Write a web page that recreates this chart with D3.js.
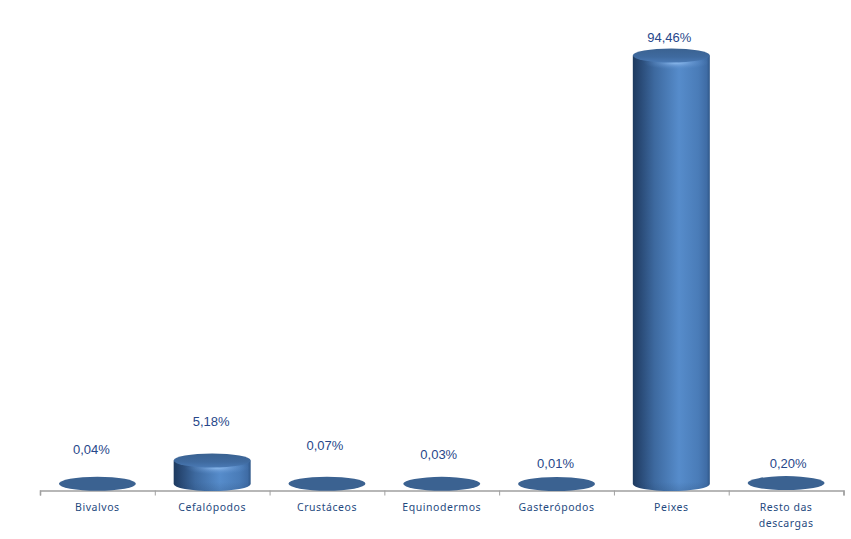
<!DOCTYPE html>
<html><head><meta charset="utf-8">
<script src="https://cdn.jsdelivr.net/npm/d3@7/dist/d3.min.js"></script>
<style>html,body{margin:0;padding:0;background:#fff}svg{display:block}</style>
</head><body><svg id="c" width="851" height="539"></svg>
<script>
const categories = ["Bivalvos","Cefalópodos","Crustáceos","Equinodermos","Gasterópodos","Peixes","Resto das descargas"];
const values = [0.04,5.18,0.07,0.03,0.01,94.46,0.20];
const valueLabels = ["0,04%","5,18%","0,07%","0,03%","0,01%","94,46%","0,20%"];
// label placement relative to the cylinder base centre, px (manually placed in the original)
const labelLift = [30,58,34,25,16,442,16];
const labelShift = [-6,-1,-2,-3,-1,-2,2];

const svg = d3.select("#c");
const x = d3.scaleBand().domain(categories).range([40,843.5]);
const y = d3.scaleLinear().domain([0,100]).range([484,30.4]);
const rx = 38.5, ry = 7, axisY = 490.5;

const defs = svg.append("defs");
const body = defs.append("linearGradient").attr("id","body");
[[0,"#1d3a5f"],[.1,"#294a76"],[.28,"#3d699f"],[.6,"#568ccb"],[.85,"#4a7cb8"],[.96,"#3f6ca5"],[1,"#2f5788"]]
 .forEach(([o,c])=>body.append("stop").attr("offset",o).attr("stop-color",c));
const top_ = defs.append("linearGradient").attr("id","top").attr("x2",0).attr("y2",1);
[[0,"#3a6291"],[.6,"#3f6a9f"],[1,"#4a7ab5"]].forEach(([o,c])=>top_.append("stop").attr("offset",o).attr("stop-color",c));
const glow = defs.append("radialGradient").attr("id","glow");
[[0,"#94c1f2",.95],[.5,"#7aa8e0",.4],[1,"#5a8dcb",0]]
 .forEach(([o,c,a])=>glow.append("stop").attr("offset",o).attr("stop-color",c).attr("stop-opacity",a));
const shade = defs.append("linearGradient").attr("id","shade").attr("x2",0).attr("y2",1);
[[0,"#1d3a5f",0],[1,"#1d3a5f",.18]].forEach(([o,c,a])=>shade.append("stop").attr("offset",o).attr("stop-color",c).attr("stop-opacity",a));

// axis
const axis = d3.axisBottom(d3.scaleLinear().domain([0,categories.length]).range(x.range()))
  .ticks(categories.length).tickFormat("").tickSize(5).tickSizeOuter(5);
const ag = svg.append("g").attr("transform",`translate(0,${axisY})`).call(axis);
ag.selectAll("path,line").attr("stroke","#a0a0a0").attr("stroke-width",1);
ag.select("path").attr("stroke-width",1.6);

// cylinders
const g = svg.selectAll("g.bar").data(categories).join("g").attr("class","bar")
  .attr("transform",d=>`translate(${x(d)+x.bandwidth()/2},0)`);
g.each(function(d,i){
  const s = d3.select(this), yt = y(values[i]), yb = y(0);
  const path = `M${-rx},${yt}L${-rx},${yb}A${rx},${ry} 0 0 0 ${rx},${yb}L${rx},${yt}Z`;
  const tall = yb-yt > 2;
  if (tall) {
    s.append("path").attr("d",path).attr("fill","url(#body)");
    const cid = "clip"+i;
    defs.append("clipPath").attr("id",cid).append("path").attr("d",path);
    const c = s.append("g").attr("clip-path",`url(#${cid})`);
    c.append("ellipse").attr("cx",5).attr("cy",yt+ry).attr("rx",rx*.85).attr("ry",7).attr("fill","url(#glow)");
    c.append("rect").attr("x",-rx).attr("width",2*rx).attr("y",yb-2).attr("height",ry+2).attr("fill","url(#shade)");
  }
  s.append("ellipse").attr("cx",0).attr("cy",yt).attr("rx",rx).attr("ry",ry)
    .attr("fill",tall ? "url(#top)" : "#3b6291");
});

// value labels
g.append("text").attr("text-anchor","middle")
  .attr("x",(d,i)=>labelShift[i])
  .attr("y",(d,i)=>y(0)-labelLift[i])
  .attr("font-family","'Liberation Sans',Arial,sans-serif").attr("font-size",13)
  .attr("fill","#27478a").text((d,i)=>valueLabels[i]);

// category labels
const wrapped = {"Resto das descargas":["Resto das","descargas"]};
const t = g.append("text").attr("text-anchor","middle")
  .attr("font-family","'Noto Sans',sans-serif").attr("font-size",10.5).attr("letter-spacing",.55)
  .attr("fill","#1f4a80");
t.selectAll("tspan").data(d=>wrapped[d]||[d]).join("tspan")
  .attr("x",0).attr("y",(d,i)=>511+i*16).text(d=>d);
</script></body></html>
